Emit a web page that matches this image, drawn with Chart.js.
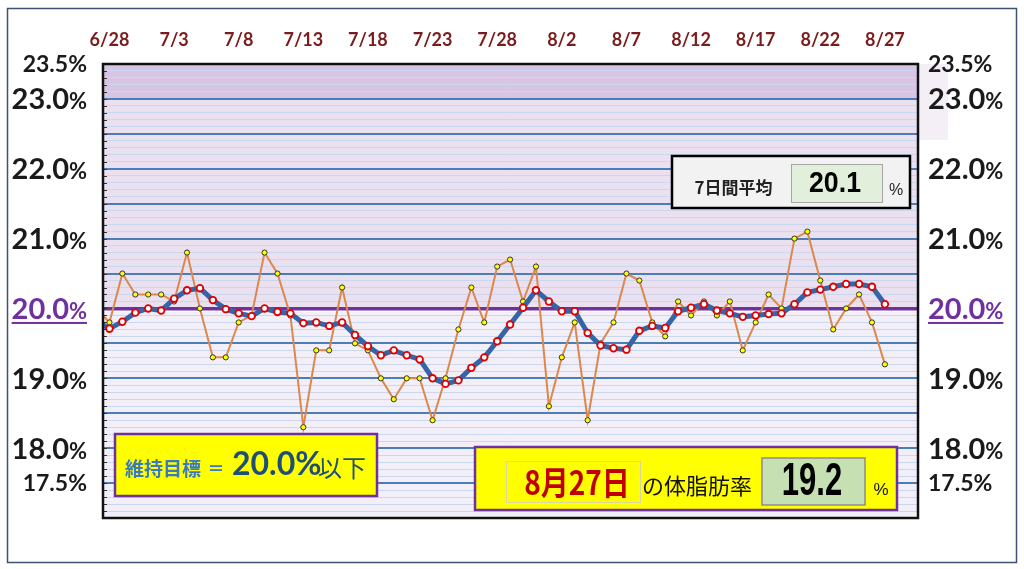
<!DOCTYPE html>
<html>
<head>
<meta charset="utf-8">
<script src="https://cdn.jsdelivr.net/npm/chart.js@4.4.1/dist/chart.umd.min.js"></script>
<style>
  html, body { margin: 0; padding: 0; background: #fff; }
  canvas { display: block; }
</style>
</head>
<body>
<canvas id="fatChart" width="1024" height="569"></canvas>
<script>
// days shown (6/27 is only there so the lines run into the left edge)
const dates = [
    "6/27", "6/28", "6/29", "6/30",
    "7/1", "7/2", "7/3", "7/4", "7/5", "7/6", "7/7", "7/8", "7/9", "7/10",
    "7/11", "7/12", "7/13", "7/14", "7/15", "7/16", "7/17", "7/18", "7/19", "7/20",
    "7/21", "7/22", "7/23", "7/24", "7/25", "7/26", "7/27", "7/28", "7/29", "7/30", "7/31",
    "8/1", "8/2", "8/3", "8/4", "8/5", "8/6", "8/7", "8/8", "8/9", "8/10",
    "8/11", "8/12", "8/13", "8/14", "8/15", "8/16", "8/17", "8/18", "8/19", "8/20",
    "8/21", "8/22", "8/23", "8/24", "8/25", "8/26", "8/27"
];

// body fat % measured each day
const dailyRate = [
    20.0, 19.8, 20.5, 20.2,
    20.2, 20.2, 20.1, 20.8, 20.0, 19.3, 19.3, 19.8, 19.9, 20.8,
    20.5, 19.9, 18.3, 19.4, 19.4, 20.3, 19.5, 19.4, 19.0, 18.7,
    19.0, 19.0, 18.4, 19.0, 19.7, 20.3, 19.8, 20.6, 20.7, 20.1, 20.6,
    18.6, 19.3, 19.8, 18.4, 19.5, 19.8, 20.5, 20.4, 19.8, 19.6,
    20.1, 19.9, 20.1, 19.9, 20.1, 19.4, 19.8, 20.2, 20.0, 21.0,
    21.1, 20.4, 19.7, 20.0, 20.2, 19.8, 19.2
];

// 7 day average
const weekAvg = [
    19.82, 19.71, 19.81, 19.94,
    20.00, 19.97, 20.14, 20.26, 20.29, 20.12, 19.99, 19.93, 19.89, 20.00,
    19.95, 19.93, 19.79, 19.80, 19.75, 19.80, 19.62, 19.46, 19.33, 19.40,
    19.33, 19.27, 19.00, 18.92, 18.97, 19.15, 19.30, 19.53, 19.77, 20.01, 20.26,
    20.10, 19.96, 19.96, 19.65, 19.47, 19.43, 19.41, 19.68, 19.75, 19.72,
    19.96, 20.01, 20.06, 19.97, 19.93, 19.88, 19.90, 19.92, 19.93, 20.06,
    20.23, 20.27, 20.31, 20.35, 20.35, 20.31, 20.06
];

const tickDates = ["6/28", "7/3", "7/8", "7/13", "7/18", "7/23", "7/28", "8/2", "8/7", "8/12", "8/17", "8/22", "8/27"];
const yLabels = [23.5, 23.0, 22.0, 21.0, 20.0, 19.0, 18.0, 17.5];
const smallLabels = [23.5, 17.5];
const goalRate = 20.0;

const lastIdx = dates.length - 1;

function toPts(arr) {
    return arr.map((v, i) => ({ x: i, y: v }));
}

// a label like "23.0%" with the % a bit smaller
function drawPct(ctx, value, x, y, align, color) {
    const small = smallLabels.includes(value);
    const numFont = small ? "bold 23px Lato" : "bold 29px Lato";
    const pctFont = small ? "bold 23px Lato" : "bold 22px Lato";
    const num = value.toFixed(1);
    ctx.save();
    ctx.textBaseline = "alphabetic";
    ctx.textAlign = "left";
    ctx.font = numFont;
    const w1 = ctx.measureText(num).width;
    ctx.font = pctFont;
    const w2 = ctx.measureText("%").width;
    const left = align === "right" ? x - w1 - w2 : x;
    const base = y + (small ? 8 : 10.5);
    ctx.fillStyle = color;
    ctx.font = numFont;
    ctx.fillText(num, left, base);
    ctx.font = pctFont;
    ctx.fillText("%", left + w1, base);
    if (value === goalRate) {
        ctx.fillRect(left, base + 3, w1 + w2, 2);
    }
    ctx.restore();
}

function text(ctx, str, x, y, font, color, align, sx) {
    ctx.save();
    ctx.font = font;
    ctx.fillStyle = color;
    ctx.textBaseline = "middle";
    ctx.textAlign = align || "center";
    ctx.translate(x, y);
    ctx.scale(sx || 1, 1);
    ctx.fillText(str, 0, 0);
    ctx.restore();
}

const backdrop = {
    id: "backdrop",
    beforeDraw(chart) {
        const { ctx, chartArea: a, scales: { y } } = chart;
        ctx.save();
        ctx.fillStyle = "#fff";
        ctx.fillRect(0, 0, chart.width, chart.height);
        // outer frame
        ctx.strokeStyle = "#3f5170";
        ctx.lineWidth = 1.5;
        ctx.strokeRect(7.5, 8.5, 1009, 554);
        // pale strip right of the plot
        ctx.fillStyle = "#f4eff7";
        ctx.fillRect(a.right, a.top, 30, 76);
        // bands
        const yTop = y.getPixelForValue(23.5);
        const y23 = y.getPixelForValue(23.0);
        const y20 = y.getPixelForValue(20.0);
        const y1995 = y.getPixelForValue(19.95);
        const yBot = y.getPixelForValue(17.0);
        ctx.fillStyle = "#d7c5e3";
        ctx.fillRect(a.left, yTop, a.width, y23 - yTop);
        ctx.fillStyle = "#eae0f0";
        ctx.fillRect(a.left, y23, a.width, y20 - y23);
        ctx.fillStyle = "#ffffff";
        ctx.fillRect(a.left, y20, a.width, y1995 - y20);
        ctx.fillStyle = "#f3eff8";
        ctx.fillRect(a.left, y1995, a.width, yBot - y1995);
        ctx.restore();
    },
    afterDatasetsDraw(chart) {
        const { ctx, chartArea: a, scales: { y } } = chart;
        ctx.save();
        // little ticks on the inside of the left edge
        ctx.strokeStyle = "#333";
        ctx.lineWidth = 1;
        y.ticks.forEach(t => {
            const py = Math.round(y.getPixelForValue(t.value)) + 0.5;
            ctx.beginPath();
            ctx.moveTo(a.left, py);
            ctx.lineTo(a.left + 4, py);
            ctx.stroke();
        });
        ctx.strokeStyle = "#111";
        ctx.lineWidth = 2.5;
        ctx.strokeRect(a.left, a.top, a.width, a.height);
        ctx.restore();
    },
    afterDraw(chart) {
        const { ctx, chartArea: a, scales: { y } } = chart;

        // y labels on both sides
        yLabels.forEach(v => {
            const py = y.getPixelForValue(v);
            const col = v === goalRate ? "#7030a0" : "#1a1a1a";
            drawPct(ctx, v, 87, py, "right", col);
            drawPct(ctx, v, a.right + 10, py, "left", col);
        });

        ctx.save();
        // 7 day average box
        ctx.fillStyle = "#f2f2f2";
        ctx.fillRect(672, 156, 238, 52);
        ctx.strokeStyle = "#000";
        ctx.lineWidth = 2.5;
        ctx.strokeRect(672, 156, 238, 52);
        ctx.fillStyle = "#e2efda";
        ctx.fillRect(791, 164, 91, 38);
        ctx.strokeStyle = "#a6a6a6";
        ctx.lineWidth = 1;
        ctx.strokeRect(791.5, 164.5, 91, 38);
        text(ctx, "7日間平均", 733.5, 188, "bold 17px 'Noto Sans CJK JP'", "#222");
        text(ctx, weekAvg[lastIdx].toFixed(1), 835, 184, "bold 30px 'Liberation Sans'", "#000", "center", 0.89);
        text(ctx, "%", 896, 191, "16px 'Liberation Sans'", "#262626");

        // goal box
        ctx.fillStyle = "#ffff00";
        ctx.fillRect(115, 434, 262, 62);
        ctx.strokeStyle = "#7030a0";
        ctx.lineWidth = 2.5;
        ctx.strokeRect(115, 434, 262, 62);
        text(ctx, "維持目標", 125, 469, "bold 19px 'Noto Sans CJK JP'", "#3a7bbf", "left");
        text(ctx, "＝", 216, 469, "bold 17px 'Noto Sans CJK JP'", "#3a7bbf");
        text(ctx, goalRate.toFixed(1) + "%", 232, 465, "bold 32px Lato", "#1f4e79", "left");
        text(ctx, "以下", 318, 468, "24px 'Noto Sans CJK JP'", "#1f4e79", "left");

        // today's value box
        ctx.fillStyle = "#ffff00";
        ctx.fillRect(475, 447, 422, 63);
        ctx.strokeStyle = "#7030a0";
        ctx.lineWidth = 2.5;
        ctx.strokeRect(475, 447, 422, 63);
        ctx.strokeStyle = "#d6d6a8";
        ctx.lineWidth = 1;
        ctx.strokeRect(506.5, 461.5, 134, 41);
        const [m, d] = dates[lastIdx].split("/");
        text(ctx, m + "月" + d + "日", 577, 482, "bold 33px 'Noto Sans CJK JP'", "#c00000", "center", 0.85);
        text(ctx, "の体脂肪率", 697, 486, "22px 'Noto Sans CJK JP'", "#111");
        ctx.fillStyle = "#c6e0b4";
        ctx.fillRect(762, 458, 103, 47);
        ctx.strokeStyle = "#8c8c8c";
        ctx.lineWidth = 1.5;
        ctx.strokeRect(762, 458, 103, 47);
        text(ctx, dailyRate[lastIdx].toFixed(1), 812, 482, "bold 47px 'Liberation Sans'", "#000", "center", 0.66);
        text(ctx, "%", 881, 490, "17px 'Liberation Sans'", "#111");
        ctx.restore();
    }
};

const ctx = document.getElementById("fatChart").getContext("2d");

new Chart(ctx, {
    type: "line",
    data: {
        datasets: [
            {
                label: "7日間平均",
                data: toPts(weekAvg),
                borderColor: "#3565a6",
                borderWidth: 5,
                pointRadius: 3.3,
                pointBorderWidth: 1.8,
                pointBackgroundColor: "#ffffff",
                pointBorderColor: "#e00000",
                tension: 0,
                clip: 0,
            },
            {
                label: "体脂肪率",
                data: toPts(dailyRate),
                borderColor: "#dc874c",
                borderWidth: 2,
                pointRadius: 2.6,
                pointBorderWidth: 1,
                pointBackgroundColor: "#ffff00",
                pointBorderColor: "#333",
                tension: 0,
                clip: 0,
            },
        ],
    },
    options: {
        responsive: false,
        animation: false,
        devicePixelRatio: 1,
        layout: {
            padding: { left: 103, right: 106, top: 30, bottom: 51 },
        },
        scales: {
            x: {
                type: "linear",
                position: "top",
                min: 0.5,
                max: 63.56,
                afterBuildTicks: scale => {
                    scale.ticks = tickDates.map(d => ({ value: dates.indexOf(d) }));
                },
                afterFit: scale => {
                    scale.height = 34;
                },
                ticks: {
                    autoSkip: false,
                    maxRotation: 0,
                    padding: 13,
                    color: "#7b1c1c",
                    font: { family: "Lato", weight: "bold", size: 18 },
                    callback: v => dates[v],
                },
                grid: { display: false, drawTicks: false },
                border: { display: false },
            },
            y: {
                min: 17,
                max: 23.5,
                ticks: { display: false, stepSize: 0.1 },
                grid: {
                    drawTicks: false,
                    color: c => {
                        const t = Math.round(c.tick.value * 10);
                        if (t === goalRate * 10) return "#7030a0";
                        if (t % 5 === 0) return "#4a7ebb";
                        return "#c9d8ee";
                    },
                    lineWidth: c => {
                        const t = Math.round(c.tick.value * 10);
                        if (t === goalRate * 10) return 3.5;
                        if (t % 5 === 0) return 2;
                        return 1;
                    },
                },
                border: { display: false },
            },
        },
        plugins: {
            legend: { display: false },
            tooltip: { enabled: false },
        },
    },
    plugins: [backdrop],
});
</script>
</body>
</html>
